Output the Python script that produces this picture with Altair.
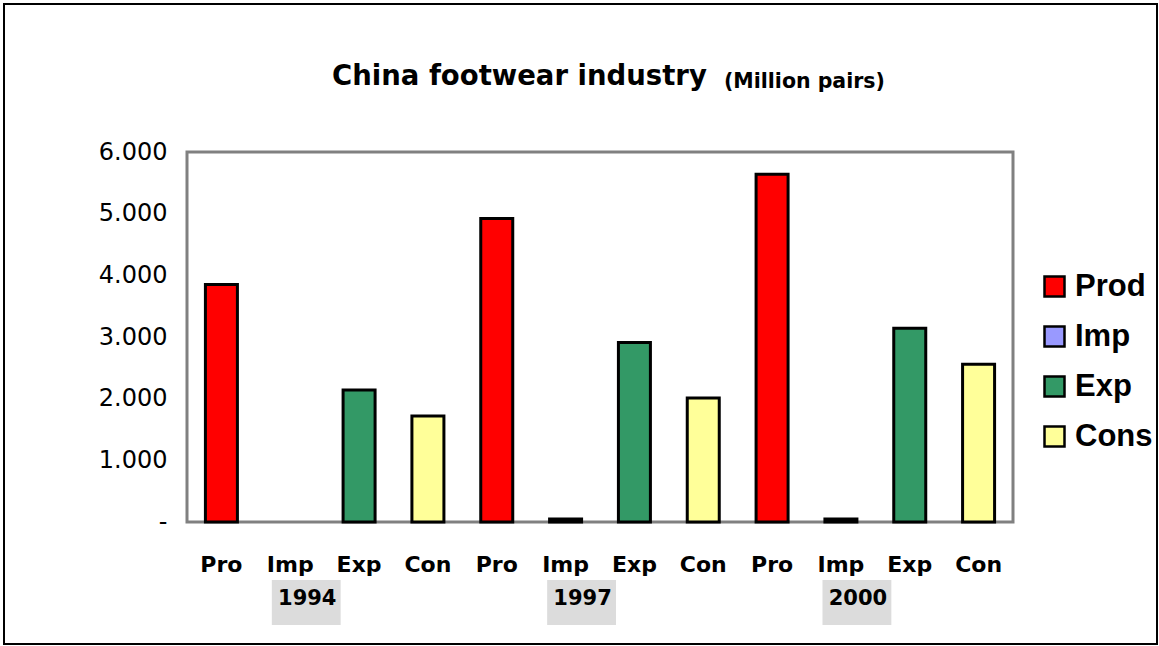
import altair as alt
import pandas as pd

years = ["1994", "1997", "2000"]
series = ["Prod", "Imp", "Exp", "Cons"]
short = ["Pro", "Imp", "Exp", "Con"]
colors = ["#FF0000", "#9999FF", "#339966", "#FFFF99"]

prod = [3850, 4920, 5640]
imp = [0, 50, 50]
exp_ = [2140, 2910, 3140]
cons = [1720, 2010, 2560]

values = {"Prod": prod, "Imp": imp, "Exp": exp_, "Cons": cons}

rows = []
keys = []
for i, y in enumerate(years):
    for s, sh in zip(series, short):
        k = f"{y}-{sh}"
        keys.append(k)
        rows.append({"key": k, "year": y, "series": s, "short": sh, "value": values[s][i]})
df = pd.DataFrame(rows)

FONT = "DejaVu Sans"
LFONT = "Liberation Sans"

W, H = 826, 370
PL, PT = 187, 152

xscale = alt.Scale(domain=keys, paddingInner=0, paddingOuter=0)

bars = alt.Chart(df).transform_filter("datum.value > 0").mark_bar(
    size=32, stroke="black", strokeWidth=3
).encode(
    x=alt.X("key:N", sort=keys, scale=xscale, title=None,
            axis=alt.Axis(labelExpr="split(datum.value, '-')[1]", labelAngle=0,
                          labelAlign="center",
                          labelFont=FONT, labelFontSize=22, labelFontWeight="bold",
                          labelColor="black", ticks=False, tickSize=0, domain=False,
                          labelPadding=32, labelBaseline="top")),
    y=alt.Y("value:Q", scale=alt.Scale(domain=[0, 6000], nice=False), title=None,
            axis=alt.Axis(values=[0, 1000, 2000, 3000, 4000, 5000, 6000],
                          labelExpr="datum.value == 0 ? '-' : replace(format(datum.value, ',d'), ',', '.')",
                          labelFont=FONT, labelFontSize=24, labelColor="black",
                          grid=False, ticks=False, tickSize=0, domain=False, labelPadding=20)),
    fill=alt.Fill("series:N", scale=alt.Scale(domain=series, range=colors),
                  legend=alt.Legend(title=None, orient="none", legendX=852, legendY=119,
                                    symbolType="square", symbolSize=400,
                                    symbolStrokeColor="black", symbolStrokeWidth=2.5,
                                    labelFont=LFONT, labelFontSize=31, labelFontWeight="bold",
                                    labelColor="black", rowPadding=18, labelOffset=5)),
)

ydf = pd.DataFrame({"key": [f"{y}-Imp" for y in years], "year": years})

boxes = alt.Chart(ydf).mark_rect(fill="#dcdcdc", xOffset=16).encode(
    x=alt.X("key:N", sort=keys, scale=xscale),
    y=alt.value(428), y2=alt.value(473),
)

ytext = alt.Chart(ydf).mark_text(font=FONT, fontSize=21, fontWeight="bold", color="black",
                                 dx=17, baseline="middle").encode(
    x=alt.X("key:N", sort=keys, scale=xscale),
    y=alt.value(447),
    text="year:N",
)

tdf = pd.DataFrame({"t": ["China footwear industry"]})
title1 = alt.Chart(tdf).mark_text(font=FONT, fontSize=27.5, fontWeight="bold", color="black",
                                  align="left", baseline="alphabetic").encode(
    x=alt.value(332 - PL), y=alt.value(85 - PT), text="t:N")

sdf = pd.DataFrame({"t": ["(Million pairs)"]})
title2 = alt.Chart(sdf).mark_text(font=FONT, fontSize=20.5, fontWeight="bold", color="black",
                                  align="left", baseline="alphabetic").encode(
    x=alt.value(724 - PL), y=alt.value(88 - PT), text="t:N")

bdf = pd.DataFrame({"b": [1]})
border = alt.Chart(bdf).mark_rect(fillOpacity=0, stroke="black", strokeWidth=2).encode(
    x=alt.value(4 - PL), x2=alt.value(1157 - PL), y=alt.value(4 - PT), y2=alt.value(644 - PT))

chart = alt.layer(border, boxes, ytext, bars, title1, title2).properties(
    width=W, height=H,
    background="white",
    autosize=alt.AutoSizeParams(type="none"),
    padding={"left": PL, "top": PT, "right": 1159 - PL - W, "bottom": 646 - PT - H},
).configure_view(stroke="#808080", strokeWidth=3)

chart.save("out.html", embed_options={"renderer": "svg", "actions": False})
